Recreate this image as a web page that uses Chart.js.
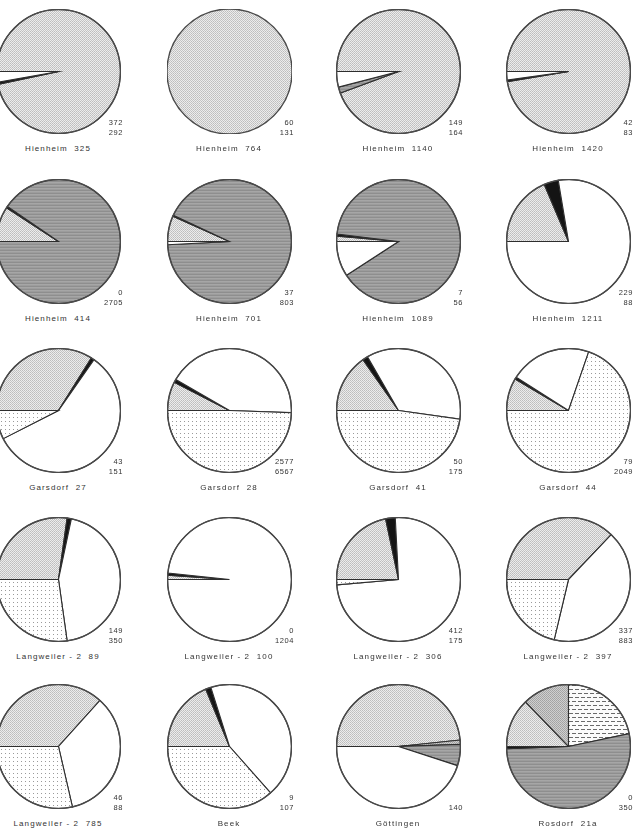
<!DOCTYPE html>
<html><head><meta charset="utf-8">
<script src="https://cdn.jsdelivr.net/npm/chart.js@4"></script>
<style>
html,body{margin:0;padding:0;background:#fff;overflow:hidden;}
#page{position:relative;width:639px;height:831px;background:#fff;overflow:hidden;font-family:"Liberation Sans",Arial,sans-serif;color:#333;}
.pie{position:absolute;width:125px;height:125px;}
.site{position:absolute;width:160px;text-align:center;font-size:8px;line-height:10px;letter-spacing:1.1px;white-space:pre;}
.num{position:absolute;width:60px;text-align:right;font-size:7.5px;line-height:9.5px;letter-spacing:0.6px;white-space:pre;}
</style></head><body><div id="page"></div>
<script>
// ---- data (slice sizes in degrees, clockwise from 9 o'clock) ----
const siteLabels = ["Hienheim  325","Hienheim  764","Hienheim  1140","Hienheim  1420",
  "Hienheim  414","Hienheim  701","Hienheim  1089","Hienheim  1211",
  "Garsdorf  27","Garsdorf  28","Garsdorf  41","Garsdorf  44",
  "Langweiler - 2  89","Langweiler - 2  100","Langweiler - 2  306","Langweiler - 2  397",
  "Langweiler - 2  785","Beek","Göttingen","Rosdorf  21a"];
const countsUpper = ["372","60","149","42","0","37","7","229","43","2577","50","79","149","0","412","337","46","9","","0"];
const countsLower = ["292","131","164","83","2705","803","56","88","151","6567","175","2049","350","1204","175","883","88","107","140","350"];
const categoryNames = ["fine stipple","medium stipple","dashes","black","dark grey","white","sparse dots","black (end)"];
const fineStipple   = [348,360,339.7,350.5,33,24,5,67,122,27,55,30.5,98,4,78,133.6,132,67.5,174,46];
const mediumStipple = [0,0,0,0,0,0,0,0,0,0,0,0,0,0,0,0,0,0,4,44];
const dashes        = [0,0,0,0,0,0,0,0,0,0,0,0,0,0,0,0,0,0,0,78];
const black         = [2,0,0,1.5,1.5,1,2,13.5,3,3,5,2,4,2,9,0,0,5,0,0];
const darkGrey      = [0,0,5.7,0,325.5,332,320,0,0,0,0,0,0,0,0,0,0,0,20,190];
const white         = [10,0,14.6,8,0,3,33,279.5,208,152,128,76.5,160,354,268,149.8,125,156,162,0];
const sparseDots    = [0,0,0,0,0,0,0,0,27,178,172,251,98,0,5,76.6,103,131.5,0,0];
const blackEnd      = [0,0,0,0,0,0,0,0,0,0,0,0,0,0,0,0,0,0,0,2];

// ---- layout ----
const colX = [58, 229, 398, 568];
const rowY = [71, 241, 410, 579, 746];
const R = 62.5;

function tile(w, h, draw) {
  const c = document.createElement('canvas'); c.width = w; c.height = h;
  const x = c.getContext('2d'); draw(x);
  return c;
}
function px(x, col, a, b){ x.fillStyle = col; x.fillRect(a, b, 1, 1); }
const tiles = {
  fine: tile(2, 2, x => { x.fillStyle = '#ececec'; x.fillRect(0,0,2,2); px(x,'#bdbdbd',0,0); px(x,'#c6c6c6',1,1); }),
  medium: tile(2, 2, x => { x.fillStyle = '#cfcfcf'; x.fillRect(0,0,2,2); px(x,'#a2a2a2',0,0); px(x,'#a8a8a8',1,1); }),
  dashes: tile(6, 8, x => { x.fillStyle = '#fbfbfb'; x.fillRect(0,0,6,8); x.fillStyle = '#6a6a6a'; x.fillRect(0,1,4,1); x.fillRect(3,5,3,1); x.fillRect(0,5,1,1); }),
  dark: tile(1, 3, x => { px(x,'#a6a6a6',0,0); px(x,'#9c9c9c',0,1); px(x,'#8e8e8e',0,2); }),
  dots: tile(4, 4, x => { x.fillStyle = '#ffffff'; x.fillRect(0,0,4,4); px(x,'#9a9a9a',1,1); })
};

const page = document.getElementById('page');
const outline = {
  id: 'outline',
  afterDatasetsDraw(chart) {
    const a = chart.getDatasetMeta(0).data[0];
    if (!a) return;
    const ctx = chart.ctx;
    ctx.save(); ctx.beginPath();
    ctx.arc(a.x, a.y, a.outerRadius, 0, Math.PI * 2);
    ctx.lineWidth = 1.4; ctx.strokeStyle = '#4a4a4a'; ctx.stroke(); ctx.restore();
  }
};

siteLabels.forEach((name, i) => {
  const cx = colX[i % 4], cy = rowY[Math.floor(i / 4)];
  const holder = document.createElement('div');
  holder.className = 'pie';
  holder.style.left = (cx - R) + 'px'; holder.style.top = (cy - R) + 'px';
  const cv = document.createElement('canvas'); cv.width = 125; cv.height = 125;
  holder.appendChild(cv); page.appendChild(holder);
  const ctx = cv.getContext('2d');
  const fills = [
    ctx.createPattern(tiles.fine, 'repeat'),
    ctx.createPattern(tiles.medium, 'repeat'),
    ctx.createPattern(tiles.dashes, 'repeat'),
    '#141414',
    ctx.createPattern(tiles.dark, 'repeat'),
    '#ffffff',
    ctx.createPattern(tiles.dots, 'repeat'),
    '#141414'
  ];
  const vals = [fineStipple[i], mediumStipple[i], dashes[i], black[i], darkGrey[i], white[i], sparseDots[i], blackEnd[i]];
  const nonZero = vals.filter(v => v > 0).length;
  new Chart(cv, {
    type: 'pie',
    data: { labels: categoryNames, datasets: [{ data: vals, backgroundColor: fills,
      borderColor: '#2e2e2e', borderWidth: nonZero > 1 ? 1.1 : 0, borderJoinStyle: 'miter' }] },
    options: {
      responsive: false, animation: false, devicePixelRatio: 1, rotation: -90,
      layout: { padding: 0 },
      plugins: { legend: { display: false }, tooltip: { enabled: false } }
    },
    plugins: [outline]
  });

  const s = document.createElement('div');
  s.className = 'site'; s.textContent = name;
  s.style.left = (cx - 80) + 'px'; s.style.top = (cy + 73) + 'px';
  page.appendChild(s);
  const n = document.createElement('div');
  n.className = 'num'; n.textContent = countsUpper[i] + '\n' + countsLower[i];
  n.style.left = (cx + 65 - 60) + 'px'; n.style.top = (cy + 47) + 'px';
  page.appendChild(n);
});
</script></body></html>
